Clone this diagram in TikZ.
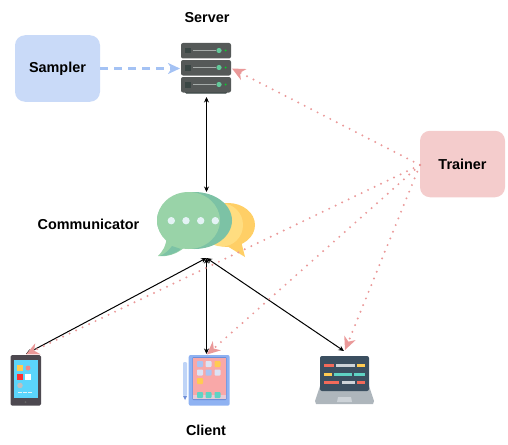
\documentclass[tikz,border=0pt]{standalone}
\usepackage{fontspec}
\setmainfont{Liberation Sans}
\usetikzlibrary{arrows.meta}
\definecolor{samplerfill}{HTML}{C9DAF8}
\definecolor{trainerfill}{HTML}{F4CCCC}
\definecolor{bluearrow}{HTML}{A4C2F4}
\definecolor{pinkarrow}{HTML}{EA9999}
\definecolor{rack}{HTML}{555958}
\definecolor{rackdark}{HTML}{2F3E3C}
\definecolor{rackline}{HTML}{A5ABA9}
\definecolor{led}{HTML}{63C99A}
\definecolor{bubble}{HTML}{99D3A8}
\definecolor{bubbledark}{HTML}{7CC2A5}
\definecolor{yel}{HTML}{FFCF66}
\definecolor{yellight}{HTML}{FFDD80}
\definecolor{dotc}{HTML}{E4F3F5}
\definecolor{phonebody}{HTML}{4D4950}
\definecolor{phonescreen}{HTML}{5BD5FB}
\definecolor{tabout}{HTML}{8FB2F2}
\definecolor{tabin}{HTML}{6F8FD8}
\definecolor{tabscreen}{HTML}{F9A8A8}
\definecolor{tile}{HTML}{A9C3F3}
\definecolor{tilel}{HTML}{DCE3F5}
\definecolor{tealt}{HTML}{5FD3C4}
\definecolor{lapscreen}{HTML}{3B4F60}
\definecolor{lapbase}{HTML}{AEB6BC}
\definecolor{lappad}{HTML}{CDD3D8}
\definecolor{redt}{HTML}{F26A5A}
\definecolor{yelt}{HTML}{FFCB52}
\tikzset{
  x=1pt,y=-1pt,
  lbl/.style={font=\fontsize{14.4}{16}\selectfont\bfseries,inner sep=0pt},
  box/.style={rounded corners=10pt,minimum width=85pt,minimum height=66.5pt,inner sep=0pt,
    font=\fontsize{14.4}{16}\selectfont\bfseries},
  blacklink/.style={draw=black,line width=1pt,{Stealth[length=5.5pt,width=5pt]}-{Stealth[length=5.5pt,width=5pt]}},
  pinklink/.style={draw=pinkarrow,line width=2.2pt,line cap=round,dash pattern=on 0pt off 7.2pt,
    -{Stealth[length=13pt,width=12pt,inset=4pt]}},
  bluelink/.style={draw=bluearrow,line width=2.2pt,dash pattern=on 8pt off 6pt,
    -{Stealth[length=12pt,width=11pt,inset=3.5pt]}},
}
\begin{document}
\begin{tikzpicture}
\useasboundingbox (0,0) rectangle (508,444);
\node[box,fill=samplerfill] (sampler) at (57.5,68.5) {Sampler};
\node[box,fill=trainerfill] (trainer) at (462.5,164) {Trainer};
\node[lbl] (serverlabel) at (207,18) {Server};
\node[lbl] (commlabel) at (88.5,224) {Communicator};
\node[lbl] (clientlabel) at (206,430.5) {Client};

% server icon
\fill[rackdark,rounded corners=1pt] (185,86) rectangle (227,93.5);
\foreach \y in {43,60,77}{
  \fill[rack,rounded corners=2pt] (181,\y) rectangle (231,\y+15.5);
  \fill[rackdark!70!rack] (185,\y+5) rectangle (191,\y+10.5);
  \draw[rackline,line width=1.1pt] (193,\y+7.5) -- (216,\y+7.5);
  \fill[led] (219,\y+7.5) circle (2.6);
  \fill[green!70!teal] (225.5,\y+7.5) circle (1);
}

% bubbles
\fill[yel] (228,225) ellipse [x radius=27,y radius=22];
\fill[yel] (227,246) -- (245,257) -- (241,241) -- cycle;
\fill[yellight] (222,225) ellipse [x radius=21,y radius=21.5];
\fill[bubbledark] (194.5,220.5) ellipse [x radius=37.5,y radius=28.5];
\fill[bubble] (188.5,220.5) ellipse [x radius=31.5,y radius=28.5];
\fill[bubble] (167,236) .. controls (166,247) and (162,252) .. (158,256) .. controls (168,257) and (176,254) .. (184,248) -- cycle;
\fill[bubbledark] (160,256) .. controls (167,256) and (175,254) .. (181,249) -- (172,246) .. controls (169,250) and (165,254) .. (160,256) -- cycle;
\foreach \x in {171.3,186,200.7,215.3}{\fill[dotc] (\x,220.7) circle (3.7);}

% phone
\fill[phonebody,rounded corners=1.5pt] (10.7,355) rectangle (41,405.7);
\fill[phonescreen] (13.7,360) rectangle (37.7,398);
\fill[yelt] (17,365) rectangle (22.5,370.5);
\fill[pinkarrow!90!red] (28,368) circle (2.5);
\fill[red!75!pink] (17,374) rectangle (22.5,379.5);
\fill[white] (25,374) rectangle (30.5,379.5);
\fill[lightgray] (20,385.5) circle (2.8);
\foreach \x in {17.7,23,28}{\fill[dotc] (\x,392) rectangle (\x+4,393.2);}
\fill[black!60] (25.5,402) circle (1);

% tablet
\fill[bluearrow!70!white,rounded corners=1pt] (183,362) rectangle (187,396);
\fill[tabin] (183,396) -- (187,396) -- (185,400) -- cycle;
\fill[tabout,rounded corners=2pt] (188.7,355) rectangle (229.7,405.7);
\fill[tabin,rounded corners=1pt] (192.3,357) rectangle (226.7,400);
\fill[tabscreen] (193.3,358) rectangle (225.7,399);
\fill[tilel!60!tabscreen] (193.3,395) rectangle (225.7,399);
\foreach \x/\y/\c in {197/361/tile,205.5/361/tilel,214.5/361/yelt,197/369.5/tilel,205.5/369.5/tile,214.5/369.5/tilel,197/378/yelt,197/392/tealt,205.5/392/tealt,214.5/392/tealt}{
  \fill[\c,rounded corners=0.8pt] (\x,\y) rectangle (\x+6,\y+6);
}

% laptop
\fill[lapbase] (320,386) -- (369,386) -- (374,401) -- (373,404) -- (316,404) -- (315,401) -- cycle;
\fill[lappad] (338,397) -- (351,397) -- (352,402) -- (337,402) -- cycle;
\fill[lapscreen,rounded corners=2pt] (320,356) rectangle (369,391);
\foreach \a/\b/\y/\c in {324/334/364/redt,336/355/364/lappad,357/365/364/yelt,
  324/332/372.5/yelt,334/352/372.5/tealt,354/365/372.5/tealt,
  324/339/381/redt,342/355/381/lappad,357/365/381/redt}{
  \fill[\c] (\a,\y) rectangle (\b,\y+3);
}

% connector ends
\coordinate (serverin) at (232,68.5);
\coordinate (samplerin) at (180,68.5);
\coordinate (servertop) at (206.5,97);
\coordinate (commtop) at (206.5,192);
\coordinate (hub) at (206.5,258);
\coordinate (phonein) at (26,354);
\coordinate (tabletin) at (206.5,354);
\coordinate (laptopin) at (344,351);
\coordinate (phonepink) at (26,354.5);
\coordinate (tabletpink) at (207,354.5);
\coordinate (laptoppink) at (345,350);
\coordinate (trainerout) at (420,165);

\draw[blacklink] (servertop) -- (commtop);
\draw[blacklink] (hub) -- (phonein);
\draw[blacklink] (hub) -- (tabletin);
\draw[blacklink] (hub) -- (laptopin);

\draw[bluelink] (sampler.east) -- (samplerin);
\draw[pinklink] (trainerout) -- (serverin);
\draw[pinklink] (trainerout) -- (phonepink);
\draw[pinklink] (trainerout) -- (tabletpink);
\draw[pinklink] (trainerout) -- (laptoppink);
\end{tikzpicture}
\end{document}
